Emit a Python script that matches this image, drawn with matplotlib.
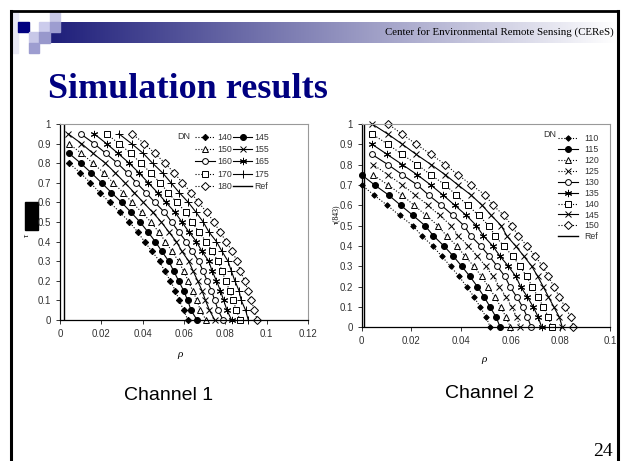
import matplotlib.pyplot as plt
import numpy as np
from matplotlib.patches import Rectangle
from matplotlib.ticker import FuncFormatter

# tau steps shared by both charts
tau = [0, 0.05, 0.1, 0.15, 0.2, 0.25, 0.3, 0.35, 0.4, 0.45, 0.5,
       0.55, 0.6, 0.65, 0.7, 0.75, 0.8, 0.85, 0.9, 0.95, 1.0]

# Channel 1: rho per DN, from tau = 0 upwards
ch1_dn = ["140", "145", "150", "155", "160", "165", "170", "175", "180"]
ch1_rho = {
    "140": [0.0619, 0.0598, 0.0577, 0.0558, 0.0534, 0.0506, 0.0482, 0.0445, 0.0409,
            0.0375, 0.0336, 0.0290, 0.0241, 0.0192, 0.0147, 0.0099, 0.0044],
    "145": [0.0663, 0.0634, 0.0618, 0.0598, 0.0574, 0.0550, 0.0526, 0.0493, 0.0461,
            0.0425, 0.0387, 0.0343, 0.0298, 0.0249, 0.0201, 0.0152, 0.0100, 0.0044],
    "150": [0.0707, 0.0679, 0.0663, 0.0642, 0.0620, 0.0598, 0.0574, 0.0542, 0.0510,
            0.0477, 0.0440, 0.0395, 0.0349, 0.0306, 0.0257, 0.0212, 0.0160, 0.0104, 0.0042],
    "155": [0.0749, 0.0723, 0.0704, 0.0687, 0.0666, 0.0644, 0.0623, 0.0590, 0.0563,
            0.0526, 0.0490, 0.0448, 0.0403, 0.0359, 0.0314, 0.0268, 0.0220, 0.0160, 0.0104, 0.0039],
    "160": [0.0789, 0.0765, 0.0749, 0.0733, 0.0712, 0.0692, 0.0671, 0.0639, 0.0611,
            0.0574, 0.0540, 0.0505, 0.0459, 0.0416, 0.0370, 0.0327, 0.0278, 0.0222, 0.0165, 0.0100],
    "165": [0.0830, 0.0808, 0.0792, 0.0776, 0.0757, 0.0736, 0.0720, 0.0687, 0.0660,
            0.0623, 0.0590, 0.0556, 0.0513, 0.0472, 0.0427, 0.0383, 0.0335, 0.0281, 0.0225, 0.0165],
    "170": [0.0870, 0.0854, 0.0837, 0.0821, 0.0801, 0.0784, 0.0765, 0.0736, 0.0708,
            0.0671, 0.0639, 0.0610, 0.0564, 0.0524, 0.0484, 0.0440, 0.0391, 0.0343, 0.0285, 0.0225],
    "175": [0.0911, 0.0898, 0.0877, 0.0866, 0.0846, 0.0829, 0.0813, 0.0784, 0.0757,
            0.0720, 0.0693, 0.0658, 0.0621, 0.0577, 0.0537, 0.0497, 0.0448, 0.0403, 0.0346, 0.0285],
    "180": [0.0954, 0.0941, 0.0925, 0.0910, 0.0893, 0.0873, 0.0857, 0.0833, 0.0805,
            0.0773, 0.0745, 0.0710, 0.0670, 0.0634, 0.0592, 0.0553, 0.0508, 0.0459, 0.0408, 0.0349],
}
ch1_ref_rho = [0.002, 0.002]

# Channel 2
ch2_dn = ["110", "115", "120", "125", "130", "135", "140", "145", "150"]
ch2_rho = {
    "110": [0.0518, 0.0501, 0.0477, 0.0452, 0.0423, 0.0392, 0.0358, 0.0322, 0.0286,
            0.0242, 0.0206, 0.0153, 0.0103, 0.0050, 0.0],
    "115": [0.0558, 0.0541, 0.0517, 0.0493, 0.0466, 0.0436, 0.0403, 0.0369, 0.0331,
            0.0289, 0.0255, 0.0207, 0.0157, 0.0109, 0.0052, 0.0],
    "120": [0.0599, 0.0581, 0.0560, 0.0537, 0.0510, 0.0483, 0.0452, 0.0416, 0.0383,
            0.0342, 0.0307, 0.0260, 0.0211, 0.0163, 0.0106, 0.0046],
    "125": [0.0639, 0.0624, 0.0604, 0.0581, 0.0554, 0.0530, 0.0499, 0.0466, 0.0430,
            0.0389, 0.0361, 0.0314, 0.0267, 0.0216, 0.0164, 0.0106, 0.0046],
    "130": [0.0683, 0.0667, 0.0648, 0.0624, 0.0597, 0.0577, 0.0546, 0.0514, 0.0479,
            0.0439, 0.0412, 0.0368, 0.0321, 0.0270, 0.0224, 0.0164, 0.0106, 0.0042],
    "135": [0.0725, 0.0711, 0.0691, 0.0667, 0.0640, 0.0621, 0.0591, 0.0557, 0.0528,
            0.0490, 0.0462, 0.0422, 0.0375, 0.0328, 0.0278, 0.0224, 0.0164, 0.0103, 0.0042],
    "140": [0.0765, 0.0752, 0.0732, 0.0709, 0.0687, 0.0664, 0.0638, 0.0608, 0.0572,
            0.0537, 0.0512, 0.0471, 0.0428, 0.0381, 0.0337, 0.0278, 0.0224, 0.0163, 0.0106, 0.0042],
    "145": [0.0808, 0.0796, 0.0774, 0.0752, 0.0731, 0.0709, 0.0685, 0.0653, 0.0620,
            0.0584, 0.0562, 0.0522, 0.0485, 0.0441, 0.0388, 0.0337, 0.0280, 0.0220, 0.0164, 0.0106, 0.0042],
    "150": [0.0852, 0.0842, 0.0819, 0.0796, 0.0774, 0.0752, 0.0729, 0.0698, 0.0666,
            0.0631, 0.0605, 0.0573, 0.0529, 0.0498, 0.0442, 0.0388, 0.0337, 0.0280, 0.0220, 0.0163, 0.0106],
}
ch2_ref_rho = [0.001, 0.001]
ref_tau = [0, 1]

dotted = (0, (1, 1.6))
ch1_style = {
    "140": dict(ls=dotted, marker="D", ms=3.2, mfc="k"),
    "145": dict(ls="-", marker="o", ms=4.3, mfc="k"),
    "150": dict(ls=dotted, marker="^", ms=4.3, mfc="white"),
    "155": dict(ls="-", marker="x", ms=4.8, mfc="k"),
    "160": dict(ls="-", marker="o", ms=4.2, mfc="white"),
    "165": dict(ls="-", marker=(6, 2, 0), ms=5.2, mfc="k"),
    "170": dict(ls=dotted, marker="s", ms=4.0, mfc="white"),
    "175": dict(ls="-", marker="+", ms=5.8, mfc="k"),
    "180": dict(ls=dotted, marker="D", ms=4.0, mfc="white"),
}
ch2_style = {
    "110": dict(ls=dotted, marker="D", ms=2.8, mfc="k"),
    "115": dict(ls="-", marker="o", ms=4.3, mfc="k"),
    "120": dict(ls=dotted, marker="^", ms=4.3, mfc="white"),
    "125": dict(ls=dotted, marker="x", ms=4.8, mfc="k"),
    "130": dict(ls="-", marker="o", ms=4.2, mfc="white"),
    "135": dict(ls="-", marker=(6, 2, 0), ms=5.2, mfc="k"),
    "140": dict(ls=dotted, marker="s", ms=4.0, mfc="white"),
    "145": dict(ls="-", marker="x", ms=4.8, mfc="k"),
    "150": dict(ls=dotted, marker="D", ms=4.0, mfc="white"),
}

sans = "Liberation Sans"
serif = "Liberation Serif"

fig = plt.figure(figsize=(6.28, 4.61), dpi=100)

# slide decoration, drawn in pixel coordinates
bg = fig.add_axes([0, 0, 1, 1])
bg.set_xlim(0, 628)
bg.set_ylim(461, 0)
bg.axis("off")

grad = np.linspace(0, 1, 256)
c0 = np.array([0.12, 0.12, 0.48])
c1 = np.array([1.0, 1.0, 1.0])
img = (c0[None, :] * (1 - grad[:, None]) + c1[None, :] * grad[:, None])[None, :, :]
bg.imshow(img, extent=(49.5, 616, 43, 22), aspect="auto", zorder=1)

squares = [
    (49.5, 11.5, "#c8c8e6"), (18, 22, "#000080"), (39, 22, "#ccccec"), (49.5, 22, "#9d9dd0"),
    (28.5, 32.5, "#c8c8e8"), (39, 32.5, "#9898cc"), (28.5, 43, "#9d9dd0"),
]
for sx, sy, sc in squares:
    bg.add_patch(Rectangle((sx, sy), 10.5, 10.5, color=sc, zorder=2))
bg.add_patch(Rectangle((13, 13), 5, 40, color="#e8e8f4", zorder=1))

bg.plot([11, 618], [11, 11], color="k", lw=2, zorder=3)
bg.plot([11, 11], [11, 461], color="k", lw=2.2, zorder=3)
bg.plot([618, 618], [11, 461], color="k", lw=2.2, zorder=3)

bg.text(614, 32, "Center for Environmental Remote Sensing (CEReS)", fontsize=7.8,
        family=serif, ha="right", va="center", zorder=4)
bg.text(48, 89, "Simulation results", fontsize=26, family=serif, fontweight="bold",
        color="#000080", ha="left", va="center")
bg.text(169, 395, "Channel 1", fontsize=14, family=sans, ha="center", va="center")
bg.text(490, 393, "Channel 2", fontsize=14, family=sans, ha="center", va="center")
bg.text(613, 451, "24", fontsize=14, family=serif, ha="right", va="center")

bg.add_patch(Rectangle((25, 202), 12.5, 28, color="k", zorder=2))
bg.text(27, 235, "τ", fontsize=6, family=serif, style="italic", rotation=90,
        ha="center", va="center")
bg.text(180, 354, "ρ", fontsize=8, family=serif, style="italic", ha="center", va="center")
bg.text(484, 359, "ρ", fontsize=8, family=serif, style="italic", ha="center", va="center")
bg.text(336, 214, "τ(843)", fontsize=5.5, family=serif, rotation=90, ha="center", va="center")


def style_axes(ax, xmax, xticks):
    ax.set_xlim(0, xmax)
    ax.set_ylim(0, 1)
    ax.set_xticks(xticks)
    ax.set_yticks(np.arange(0, 11) / 10)
    fmt = FuncFormatter(lambda v, p: "%g" % round(v, 3))
    ax.xaxis.set_major_formatter(fmt)
    ax.yaxis.set_major_formatter(fmt)
    ax.tick_params(direction="out", length=3, width=0.7, labelsize=7, colors="#333333",
                   labelcolor="#333333")
    for lab in ax.get_xticklabels() + ax.get_yticklabels():
        lab.set_family(sans)
    for side in ["top", "right"]:
        ax.spines[side].set_color("#999999")
        ax.spines[side].set_linewidth(0.8)
    for side in ["left", "bottom"]:
        ax.spines[side].set_color("k")
        ax.spines[side].set_linewidth(0.9)


def draw(ax, dns, rho, styles, ref_rho):
    lines = {}
    for dn in dns:
        st = styles[dn]
        n = len(rho[dn])
        ln, = ax.plot(rho[dn], tau[:n], color="k", lw=0.8, ls=st["ls"], marker=st["marker"],
                      ms=st["ms"], mfc=st["mfc"], mec="k", mew=0.7, label=dn, clip_on=False)
        lines[dn] = ln
    ref, = ax.plot(ref_rho, ref_tau, color="k", lw=1.0, label="Ref")
    lines["Ref"] = ref
    return lines


ax1 = fig.add_axes([60 / 628, 1 - 320 / 461, 248 / 628, 196 / 461])
style_axes(ax1, 0.12, [0, 0.02, 0.04, 0.06, 0.08, 0.1, 0.12])
l1 = draw(ax1, ch1_dn, ch1_rho, ch1_style, ch1_ref_rho)
order1 = ["140", "150", "160", "170", "180", "145", "155", "165", "175", "Ref"]
leg1 = ax1.legend([l1[k] for k in order1], order1, ncol=2, loc="upper right",
                  bbox_to_anchor=(0.862, 0.978), frameon=False, borderpad=0,
                  prop={"family": sans, "size": 6.3}, handlelength=2.2, handletextpad=0.25,
                  columnspacing=0.15, labelspacing=0.38)
for t in leg1.get_texts():
    t.set_color("#333333")
ax1.text(0.50, 0.934, "DN", transform=ax1.transAxes, fontsize=6.5, family=sans,
         color="#333333", ha="center", va="center")

ax2 = fig.add_axes([361.7 / 628, 1 - 327.3 / 461, 248.3 / 628, 203.3 / 461])
style_axes(ax2, 0.1, [0, 0.02, 0.04, 0.06, 0.08, 0.1])
l2 = draw(ax2, ch2_dn, ch2_rho, ch2_style, ch2_ref_rho)
order2 = ch2_dn + ["Ref"]
leg2 = ax2.legend([l2[k] for k in order2], order2, ncol=1, loc="upper right",
                  bbox_to_anchor=(0.975, 0.972), frameon=False, borderpad=0,
                  prop={"family": sans, "size": 6.3}, handlelength=2.3, handletextpad=0.8,
                  labelspacing=0.22)
for t in leg2.get_texts():
    t.set_color("#333333")
ax2.text(0.758, 0.946, "DN", transform=ax2.transAxes, fontsize=6.5, family=sans,
         color="#333333", ha="center", va="center")

fig.savefig("out.png", dpi=100)
